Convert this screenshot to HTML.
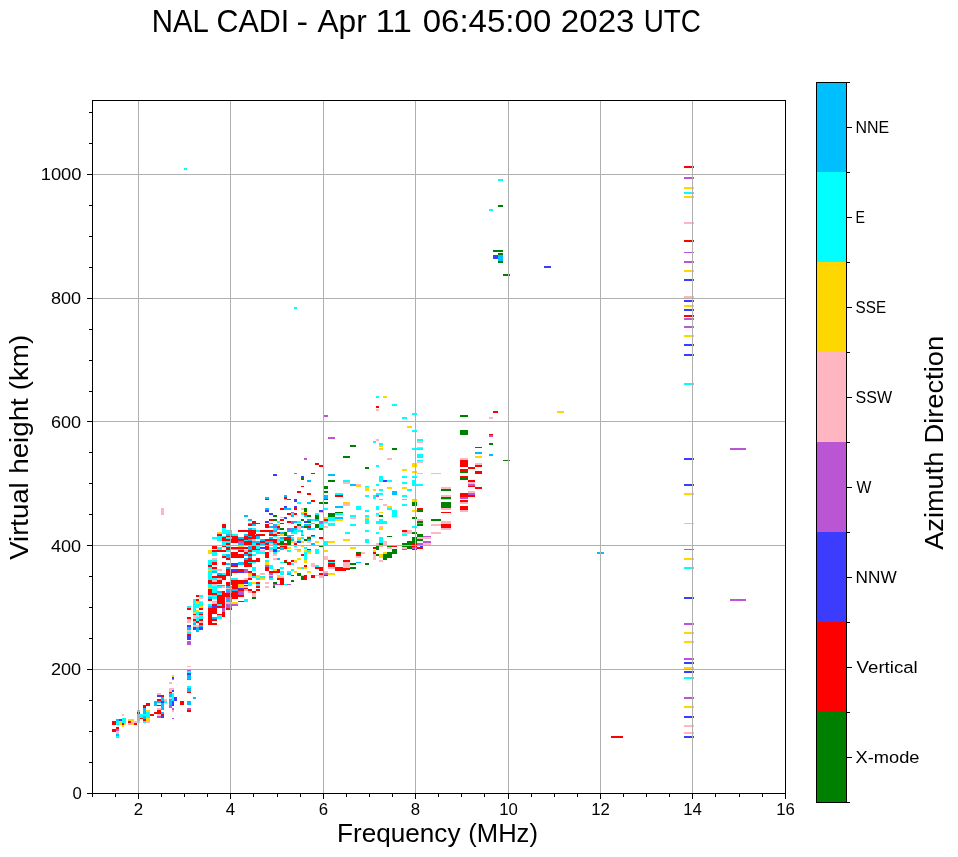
<!DOCTYPE html>
<html><head><meta charset="utf-8"><style>
html,body{margin:0;padding:0;background:#fff;width:958px;height:857px;overflow:hidden;position:relative}
text{font-family:'Liberation Sans',sans-serif}
</style></head><body>
<svg width="958" height="857" viewBox="0 0 958 857" style="position:absolute;left:0;top:0" shape-rendering="crispEdges"><rect x="0" y="0" width="958" height="857" fill="#fff"/><path fill="#FF0000" d="M112 721h4v4h-4z"/><path fill="#00FFFF" d="M116 721h3v4h-3z"/><path fill="#00BFFF" d="M116 719h3v2h-3z"/><path fill="#3C3CFF" d="M119 719h3v2h-3z"/><path fill="#FFD700" d="M119 721h5v4h-5z"/><path fill="#00FFFF" d="M122 718h4v5h-4z"/><path fill="#FF0000" d="M122 723h2v2h-2z"/><path fill="#FFD700" d="M122 725h2v2h-2zM124 723h2v2h-2z"/><path fill="#FFB6C1" d="M122 714h2v2h-2z"/><path fill="#FF0000" d="M116 727h3v2h-3zM112 729h4v3h-4z"/><path fill="#BA55D3" d="M116 729h3v2h-3z"/><path fill="#FFB6C1" d="M116 731h3v3h-3z"/><path fill="#00BFFF" d="M116 734h3v2h-3z"/><path fill="#00FFFF" d="M116 736h3v2h-3z"/><path fill="#FFD700" d="M128 719h6v2h-6z"/><path fill="#FF0000" d="M128 721h3v2h-3z"/><path fill="#FFB6C1" d="M131 721h7v2h-7zM128 723h3v2h-3z"/><path fill="#FFD700" d="M131 723h3v2h-3z"/><path fill="#FF0000" d="M134 723h3v2h-3z"/><path fill="#FFB6C1" d="M138 721h2v2h-2z"/><path fill="#00FFFF" d="M137 710h3v11h-3z"/><path fill="#FF0000" d="M137 712h3v2h-3z"/><path fill="#00FFFF" d="M140 714h10v4h-10z"/><path fill="#00BFFF" d="M143 708h3v6h-3z"/><path fill="#FF0000" d="M143 705h3v3h-3zM146 703h4v3h-4z"/><path fill="#FFD700" d="M146 710h4v2h-4z"/><path fill="#00FFFF" d="M146 712h4v6h-4z"/><path fill="#FFD700" d="M146 718h4v3h-4z"/><path fill="#FFB6C1" d="M146 721h4v2h-4z"/><path fill="#FF0000" d="M140 718h3v1h-3z"/><path fill="#00BFFF" d="M143 716h3v3h-3z"/><path fill="#FF0000" d="M143 719h3v2h-3z"/><path fill="#00FFFF" d="M143 721h3v2h-3z"/><path fill="#FF0000" d="M150 714h4v2h-4zM154 712h7v2h-7zM157 710h4v2h-4z"/><path fill="#FFB6C1" d="M157 708h4v2h-4z"/><path fill="#00BFFF" d="M154 701h3v5h-3zM157 701h4v2h-4z"/><path fill="#FF0000" d="M157 699h4v2h-4zM157 705h4v1h-4z"/><path fill="#FFB6C1" d="M157 693h4v2h-4z"/><path fill="#3C3CFF" d="M157 695h4v2h-4z"/><path fill="#FF0000" d="M161 695h3v2h-3z"/><path fill="#00BFFF" d="M161 697h3v13h-3z"/><path fill="#3C3CFF" d="M161 701h3v2h-3z"/><path fill="#00BFFF" d="M161 712h3v2h-3z"/><path fill="#FF0000" d="M161 714h3v2h-3z"/><path fill="#3C3CFF" d="M161 716h3v2h-3z"/><path fill="#FFB6C1" d="M157 714h4v2h-4z"/><path fill="#BA55D3" d="M157 716h4v2h-4zM187 641h4v4h-4z"/><path fill="#FFB6C1" d="M187 666h4v1h-4z"/><path fill="#BA55D3" d="M187 670h4v1h-4z"/><path fill="#00FFFF" d="M187 671h4v2h-4z"/><path fill="#3C3CFF" d="M187 673h4v2h-4z"/><path fill="#00BFFF" d="M187 675h4v4h-4z"/><path fill="#BA55D3" d="M187 679h4v1h-4z"/><path fill="#00FFFF" d="M187 686h4v2h-4z"/><path fill="#00BFFF" d="M187 688h4v4h-4z"/><path fill="#FF0000" d="M187 692h4v1h-4z"/><path fill="#00BFFF" d="M193 697h3v2h-3z"/><path fill="#FFD700" d="M172 675h2v2h-2z"/><path fill="#3C3CFF" d="M172 677h2v2h-2z"/><path fill="#00BFFF" d="M172 679h2v1h-2z"/><path fill="#FFB6C1" d="M169 682h3v2h-3zM169 688h5v2h-5zM169 690h3v2h-3z"/><path fill="#3C3CFF" d="M172 690h2v2h-2z"/><path fill="#FF0000" d="M169 692h3v1h-3z"/><path fill="#00BFFF" d="M169 693h3v12h-3z"/><path fill="#00FFFF" d="M172 693h2v8h-2z"/><path fill="#FFB6C1" d="M169 697h3v2h-3z"/><path fill="#3C3CFF" d="M174 697h3v4h-3zM172 701h2v4h-2z"/><path fill="#FF0000" d="M172 705h2v1h-2z"/><path fill="#BA55D3" d="M169 705h3v3h-3zM172 708h2v2h-2z"/><path fill="#FFB6C1" d="M172 710h2v2h-2z"/><path fill="#BA55D3" d="M172 718h2v1h-2z"/><path fill="#FFB6C1" d="M164 699h3v2h-3z"/><path fill="#00FFFF" d="M164 701h3v2h-3z"/><path fill="#FF0000" d="M180 701h4v4h-4z"/><path fill="#00BFFF" d="M187 701h4v4h-4z"/><path fill="#BA55D3" d="M187 708h4v2h-4z"/><path fill="#FF0000" d="M187 710h4v2h-4z"/><path fill="#00FFFF" d="M187 606h4v2h-4z"/><path fill="#FF0000" d="M187 608h4v2h-4zM187 617h4v2h-4z"/><path fill="#FFB6C1" d="M187 619h4v4h-4z"/><path fill="#3C3CFF" d="M187 625h4v2h-4z"/><path fill="#00BFFF" d="M187 627h4v3h-4z"/><path fill="#FFB6C1" d="M187 630h4v2h-4z"/><path fill="#00FFFF" d="M187 632h4v2h-4z"/><path fill="#FF0000" d="M187 634h4v2h-4z"/><path fill="#3C3CFF" d="M187 636h4v4h-4z"/><path fill="#00FFFF" d="M193 599h3v13h-3z"/><path fill="#FFD700" d="M193 612h3v2h-3z"/><path fill="#FF0000" d="M193 614h3v1h-3z"/><path fill="#FFB6C1" d="M193 615h3v4h-3z"/><path fill="#FF0000" d="M193 619h3v2h-3z"/><path fill="#00FFFF" d="M193 621h3v2h-3z"/><path fill="#00BFFF" d="M193 623h3v2h-3z"/><path fill="#FFB6C1" d="M193 625h6v2h-6z"/><path fill="#3C3CFF" d="M193 627h3v3h-3z"/><path fill="#FF0000" d="M196 595h3v2h-3zM196 599h3v2h-3z"/><path fill="#FFD700" d="M196 601h3v3h-3z"/><path fill="#00FFFF" d="M196 604h3v4h-3z"/><path fill="#FFD700" d="M196 610h3v2h-3z"/><path fill="#00FFFF" d="M196 612h3v3h-3z"/><path fill="#FFB6C1" d="M196 615h3v2h-3z"/><path fill="#00FFFF" d="M196 617h3v4h-3z"/><path fill="#FF0000" d="M196 621h3v2h-3z"/><path fill="#00BFFF" d="M196 627h3v5h-3z"/><path fill="#00FFFF" d="M199 595h4v2h-4z"/><path fill="#FFB6C1" d="M199 597h4v2h-4z"/><path fill="#FFD700" d="M199 601h4v1h-4z"/><path fill="#00FFFF" d="M199 602h4v4h-4z"/><path fill="#FFD700" d="M199 606h4v2h-4z"/><path fill="#FF0000" d="M199 608h4v2h-4z"/><path fill="#00BFFF" d="M199 612h4v2h-4z"/><path fill="#FF0000" d="M199 614h4v1h-4z"/><path fill="#00FFFF" d="M199 615h4v4h-4z"/><path fill="#FF0000" d="M199 619h4v2h-4z"/><path fill="#FFB6C1" d="M199 621h4v2h-4z"/><path fill="#FF0000" d="M199 623h4v2h-4z"/><path fill="#00BFFF" d="M199 625h4v2h-4z"/><path fill="#3C3CFF" d="M199 627h4v3h-4z"/><path fill="#00FFFF" d="M208 585h4v3h-4z"/><path fill="#FFD700" d="M208 588h4v1h-4z"/><path fill="#FF0000" d="M208 589h4v6h-4z"/><path fill="#00FFFF" d="M208 595h4v2h-4z"/><path fill="#00BFFF" d="M208 597h4v2h-4z"/><path fill="#FF0000" d="M208 599h4v2h-4z"/><path fill="#00FFFF" d="M208 604h4v2h-4z"/><path fill="#00BFFF" d="M208 606h4v2h-4z"/><path fill="#FF0000" d="M208 608h4v17h-4z"/><path fill="#FFB6C1" d="M212 585h5v1h-5z"/><path fill="#00FFFF" d="M212 586h5v7h-5z"/><path fill="#FF0000" d="M212 593h5v2h-5z"/><path fill="#00FFFF" d="M212 595h5v4h-5z"/><path fill="#FFB6C1" d="M212 601h5v3h-5z"/><path fill="#FF0000" d="M212 604h5v2h-5z"/><path fill="#3C3CFF" d="M212 606h5v2h-5z"/><path fill="#FF0000" d="M212 608h5v6h-5z"/><path fill="#00BFFF" d="M212 617h5v2h-5z"/><path fill="#FF0000" d="M212 619h5v2h-5zM212 623h5v2h-5z"/><path fill="#00BFFF" d="M217 585h5v1h-5z"/><path fill="#00FFFF" d="M217 586h5v2h-5z"/><path fill="#00BFFF" d="M217 591h5v2h-5z"/><path fill="#00FFFF" d="M217 593h5v2h-5z"/><path fill="#FF0000" d="M217 595h5v9h-5z"/><path fill="#00FFFF" d="M217 604h5v2h-5z"/><path fill="#FF0000" d="M217 606h5v2h-5zM217 614h5v1h-5z"/><path fill="#00FFFF" d="M217 615h5v4h-5z"/><path fill="#00BFFF" d="M222 585h3v1h-3z"/><path fill="#FFB6C1" d="M222 586h3v2h-3z"/><path fill="#FF0000" d="M222 591h3v17h-3z"/><path fill="#BA55D3" d="M222 608h3v4h-3z"/><path fill="#FF0000" d="M222 612h3v5h-3zM226 585h4v1h-4z"/><path fill="#00BFFF" d="M226 586h6v2h-6z"/><path fill="#FFB6C1" d="M226 588h6v1h-6z"/><path fill="#00BFFF" d="M226 589h6v2h-6z"/><path fill="#BA55D3" d="M226 591h6v2h-6z"/><path fill="#FF0000" d="M225 593h7v4h-7z"/><path fill="#BA55D3" d="M226 597h6v2h-6z"/><path fill="#00BFFF" d="M226 599h6v3h-6z"/><path fill="#FFB6C1" d="M226 602h6v2h-6z"/><path fill="#BA55D3" d="M226 604h6v4h-6z"/><path fill="#FF0000" d="M226 608h6v2h-6zM232 585h6v6h-6z"/><path fill="#00BFFF" d="M232 589h6v2h-6z"/><path fill="#FF0000" d="M232 591h6v8h-6z"/><path fill="#FFD700" d="M232 602h6v2h-6z"/><path fill="#BA55D3" d="M232 604h6v2h-6z"/><path fill="#FFD700" d="M238 585h6v3h-6z"/><path fill="#3C3CFF" d="M238 588h6v1h-6z"/><path fill="#FF0000" d="M238 589h6v2h-6z"/><path fill="#BA55D3" d="M238 591h6v4h-6z"/><path fill="#FF0000" d="M238 595h6v2h-6zM238 601h6v1h-6zM244 585h4v1h-4z"/><path fill="#FFB6C1" d="M244 586h4v2h-4z"/><path fill="#FF0000" d="M244 588h4v1h-4z"/><path fill="#FFB6C1" d="M244 589h4v2h-4z"/><path fill="#00FFFF" d="M244 599h4v3h-4zM248 585h4v1h-4z"/><path fill="#FF0000" d="M248 589h4v2h-4z"/><path fill="#FFB6C1" d="M248 591h4v2h-4z"/><path fill="#FF0000" d="M252 591h4v2h-4z"/><path fill="#FFB6C1" d="M252 593h4v4h-4z"/><path fill="#008000" d="M252 597h4v2h-4z"/><path fill="#00FFFF" d="M256 585h4v1h-4z"/><path fill="#FF0000" d="M256 586h4v2h-4zM256 589h4v2h-4z"/><path fill="#FFB6C1" d="M265 586h4v2h-4z"/><path fill="#BA55D3" d="M273 585h2v1h-2z"/><path fill="#008000" d="M273 586h2v2h-2z"/><path fill="#FFD700" d="M208 550h4v4h-4z"/><path fill="#00FFFF" d="M208 560h4v5h-4z"/><path fill="#FF0000" d="M208 565h4v2h-4z"/><path fill="#00FFFF" d="M208 567h4v2h-4z"/><path fill="#FFD700" d="M208 569h4v2h-4z"/><path fill="#00FFFF" d="M208 571h4v9h-4z"/><path fill="#FF0000" d="M208 580h4v4h-4z"/><path fill="#00FFFF" d="M208 584h4v1h-4zM212 537h5v2h-5z"/><path fill="#FF0000" d="M212 546h5v3h-5zM212 550h5v2h-5z"/><path fill="#00FFFF" d="M212 552h5v4h-5z"/><path fill="#FFB6C1" d="M212 558h5v2h-5z"/><path fill="#00FFFF" d="M212 560h5v2h-5z"/><path fill="#FF0000" d="M212 562h5v3h-5zM212 567h5v2h-5z"/><path fill="#00FFFF" d="M212 569h5v2h-5z"/><path fill="#00BFFF" d="M212 571h5v2h-5z"/><path fill="#FF0000" d="M212 576h5v2h-5z"/><path fill="#00FFFF" d="M212 578h5v2h-5z"/><path fill="#FFB6C1" d="M212 580h5v2h-5z"/><path fill="#FF0000" d="M212 582h5v2h-5z"/><path fill="#FFB6C1" d="M212 584h5v1h-5z"/><path fill="#FF0000" d="M217 535h5v1h-5z"/><path fill="#00FFFF" d="M217 536h5v5h-5zM217 547h5v3h-5z"/><path fill="#FF0000" d="M217 550h5v2h-5z"/><path fill="#FFB6C1" d="M217 569h5v2h-5z"/><path fill="#00BFFF" d="M217 573h5v2h-5z"/><path fill="#FF0000" d="M217 575h5v5h-5z"/><path fill="#FFB6C1" d="M217 578h5v2h-5z"/><path fill="#FF0000" d="M217 580h5v4h-5z"/><path fill="#00FFFF" d="M222 536h4v1h-4z"/><path fill="#FF0000" d="M222 537h4v4h-4z"/><path fill="#00FFFF" d="M222 541h4v4h-4z"/><path fill="#FF0000" d="M222 546h4v1h-4zM222 550h4v2h-4z"/><path fill="#00FFFF" d="M222 554h4v2h-4z"/><path fill="#FF0000" d="M222 556h4v2h-4zM222 562h4v3h-4z"/><path fill="#00FFFF" d="M222 573h4v2h-4z"/><path fill="#FF0000" d="M222 575h4v5h-4z"/><path fill="#00BFFF" d="M226 535h5v1h-5z"/><path fill="#00FFFF" d="M226 537h5v2h-5z"/><path fill="#FF0000" d="M226 539h5v2h-5z"/><path fill="#00FFFF" d="M226 541h5v2h-5z"/><path fill="#FF0000" d="M226 543h5v2h-5z"/><path fill="#00FFFF" d="M226 546h5v1h-5z"/><path fill="#FF0000" d="M226 547h5v3h-5z"/><path fill="#00FFFF" d="M226 550h5v2h-5z"/><path fill="#00BFFF" d="M226 554h5v4h-5z"/><path fill="#FF0000" d="M226 558h5v2h-5z"/><path fill="#00BFFF" d="M226 563h5v2h-5zM226 567h5v2h-5z"/><path fill="#FF0000" d="M226 569h5v7h-5zM226 582h5v3h-5z"/><path fill="#00FFFF" d="M231 535h7v1h-7z"/><path fill="#FF0000" d="M231 536h7v7h-7zM231 547h7v2h-7z"/><path fill="#00FFFF" d="M231 549h7v1h-7z"/><path fill="#FF0000" d="M231 552h7v6h-7z"/><path fill="#3C3CFF" d="M231 563h7v2h-7z"/><path fill="#FF0000" d="M231 565h7v2h-7z"/><path fill="#3C3CFF" d="M231 569h7v2h-7z"/><path fill="#FF0000" d="M231 571h7v2h-7zM231 573h1v3h-1z"/><path fill="#00FFFF" d="M231 578h7v2h-7z"/><path fill="#FF0000" d="M231 580h7v5h-7z"/><path fill="#00BFFF" d="M238 537h6v2h-6z"/><path fill="#FF0000" d="M238 539h6v2h-6z"/><path fill="#BA55D3" d="M238 541h6v2h-6z"/><path fill="#00BFFF" d="M238 543h6v2h-6z"/><path fill="#FFD700" d="M238 546h6v1h-6z"/><path fill="#FF0000" d="M238 547h6v2h-6z"/><path fill="#00FFFF" d="M238 549h6v1h-6z"/><path fill="#FF0000" d="M238 550h6v2h-6zM238 554h6v4h-6z"/><path fill="#00BFFF" d="M238 562h6v3h-6z"/><path fill="#FF0000" d="M238 569h6v2h-6z"/><path fill="#3C3CFF" d="M238 571h6v2h-6z"/><path fill="#FF0000" d="M238 580h6v5h-6z"/><path fill="#FFD700" d="M238 584h6v1h-6z"/><path fill="#00BFFF" d="M244 535h4v1h-4z"/><path fill="#FF0000" d="M244 536h4v3h-4z"/><path fill="#00FFFF" d="M244 539h4v2h-4z"/><path fill="#FF0000" d="M244 541h4v4h-4zM244 547h4v2h-4z"/><path fill="#FFB6C1" d="M244 550h4v2h-4z"/><path fill="#FF0000" d="M244 552h4v2h-4z"/><path fill="#00BFFF" d="M244 554h4v2h-4zM244 558h4v2h-4z"/><path fill="#FF0000" d="M244 560h4v7h-4z"/><path fill="#BA55D3" d="M244 569h4v4h-4z"/><path fill="#FFB6C1" d="M244 578h4v2h-4z"/><path fill="#FF0000" d="M244 580h4v2h-4z"/><path fill="#3C3CFF" d="M244 582h4v2h-4z"/><path fill="#FF0000" d="M248 535h4v1h-4z"/><path fill="#00BFFF" d="M248 536h4v1h-4z"/><path fill="#FF0000" d="M248 537h4v2h-4z"/><path fill="#00BFFF" d="M248 539h4v2h-4z"/><path fill="#FF0000" d="M248 541h4v4h-4z"/><path fill="#00BFFF" d="M248 546h4v4h-4z"/><path fill="#FF0000" d="M248 550h4v2h-4z"/><path fill="#00FFFF" d="M248 552h4v2h-4z"/><path fill="#FF0000" d="M248 554h4v2h-4z"/><path fill="#00BFFF" d="M248 556h4v2h-4z"/><path fill="#FF0000" d="M248 558h4v4h-4z"/><path fill="#00FFFF" d="M248 562h4v1h-4z"/><path fill="#FF0000" d="M248 563h4v4h-4zM248 571h4v2h-4z"/><path fill="#FFD700" d="M248 573h4v3h-4z"/><path fill="#FFB6C1" d="M248 576h4v2h-4z"/><path fill="#FF0000" d="M248 578h4v2h-4z"/><path fill="#00FFFF" d="M248 582h4v3h-4z"/><path fill="#FF0000" d="M252 535h4v1h-4zM252 536h4v3h-4z"/><path fill="#FFB6C1" d="M252 539h4v2h-4z"/><path fill="#00BFFF" d="M252 541h4v2h-4z"/><path fill="#00FFFF" d="M252 543h4v2h-4z"/><path fill="#FF0000" d="M252 546h4v4h-4z"/><path fill="#00FFFF" d="M252 550h4v2h-4zM252 554h4v2h-4z"/><path fill="#FF0000" d="M252 560h4v2h-4z"/><path fill="#00FFFF" d="M252 562h4v1h-4zM252 567h4v4h-4z"/><path fill="#FF0000" d="M252 573h4v3h-4z"/><path fill="#00FFFF" d="M252 576h4v2h-4z"/><path fill="#FFD700" d="M252 582h4v2h-4z"/><path fill="#FF0000" d="M256 535h4v1h-4z"/><path fill="#00BFFF" d="M256 536h4v3h-4zM256 541h4v2h-4z"/><path fill="#FF0000" d="M256 543h4v2h-4z"/><path fill="#00FFFF" d="M256 546h4v3h-4z"/><path fill="#FF0000" d="M256 549h4v1h-4z"/><path fill="#00FFFF" d="M256 550h4v4h-4z"/><path fill="#FF0000" d="M256 558h4v4h-4z"/><path fill="#FFB6C1" d="M256 575h4v1h-4z"/><path fill="#FFD700" d="M256 576h4v2h-4z"/><path fill="#00FFFF" d="M256 578h4v2h-4z"/><path fill="#FF0000" d="M256 582h4v2h-4z"/><path fill="#00FFFF" d="M256 584h4v1h-4z"/><path fill="#FF0000" d="M260 535h5v1h-5z"/><path fill="#00BFFF" d="M260 539h5v2h-5z"/><path fill="#FF0000" d="M260 541h5v2h-5z"/><path fill="#00BFFF" d="M260 543h5v2h-5z"/><path fill="#3C3CFF" d="M260 547h5v2h-5z"/><path fill="#FFB6C1" d="M260 550h5v2h-5z"/><path fill="#00FFFF" d="M260 552h5v2h-5z"/><path fill="#FFB6C1" d="M260 573h5v2h-5z"/><path fill="#00FFFF" d="M260 576h5v2h-5z"/><path fill="#FFD700" d="M260 578h5v2h-5z"/><path fill="#FF0000" d="M265 539h4v2h-4z"/><path fill="#00BFFF" d="M265 541h4v2h-4z"/><path fill="#FF0000" d="M265 543h4v2h-4zM265 546h4v4h-4zM265 552h4v6h-4z"/><path fill="#00FFFF" d="M265 560h4v2h-4z"/><path fill="#FFD700" d="M265 562h4v3h-4z"/><path fill="#BA55D3" d="M265 565h4v2h-4z"/><path fill="#FF0000" d="M265 567h4v4h-4z"/><path fill="#FFB6C1" d="M265 582h4v2h-4z"/><path fill="#FF0000" d="M269 535h4v1h-4z"/><path fill="#00BFFF" d="M269 537h4v2h-4z"/><path fill="#FF0000" d="M269 539h4v2h-4z"/><path fill="#00BFFF" d="M269 541h4v2h-4z"/><path fill="#FFB6C1" d="M269 543h4v2h-4z"/><path fill="#00FFFF" d="M269 547h4v3h-4z"/><path fill="#FFB6C1" d="M269 550h4v2h-4z"/><path fill="#00FFFF" d="M269 565h4v4h-4z"/><path fill="#FF0000" d="M269 571h4v2h-4z"/><path fill="#BA55D3" d="M269 573h4v2h-4z"/><path fill="#FFB6C1" d="M269 575h4v1h-4z"/><path fill="#BA55D3" d="M269 576h4v2h-4z"/><path fill="#00FFFF" d="M269 578h4v2h-4z"/><path fill="#FF0000" d="M273 535h4v1h-4z"/><path fill="#00FFFF" d="M273 536h4v1h-4z"/><path fill="#FF0000" d="M273 539h4v4h-4z"/><path fill="#00BFFF" d="M273 543h4v2h-4z"/><path fill="#00FFFF" d="M273 546h4v3h-4z"/><path fill="#FF0000" d="M273 549h4v1h-4z"/><path fill="#3C3CFF" d="M273 550h4v2h-4z"/><path fill="#00FFFF" d="M273 552h4v2h-4z"/><path fill="#FFB6C1" d="M273 554h4v2h-4zM273 558h4v2h-4z"/><path fill="#FFD700" d="M273 569h4v2h-4z"/><path fill="#FF0000" d="M273 571h4v2h-4z"/><path fill="#008000" d="M273 582h4v2h-4z"/><path fill="#BA55D3" d="M273 584h4v1h-4z"/><path fill="#00BFFF" d="M277 535h3v1h-3z"/><path fill="#FFB6C1" d="M277 537h3v2h-3z"/><path fill="#00FFFF" d="M277 539h3v2h-3z"/><path fill="#FFB6C1" d="M277 541h3v2h-3z"/><path fill="#FF0000" d="M277 543h3v2h-3zM277 547h3v2h-3z"/><path fill="#00FFFF" d="M277 550h3v2h-3z"/><path fill="#00BFFF" d="M277 558h3v2h-3z"/><path fill="#FF0000" d="M277 569h3v4h-3z"/><path fill="#FFD700" d="M277 575h3v3h-3z"/><path fill="#FF0000" d="M277 578h3v2h-3z"/><path fill="#BA55D3" d="M277 584h3v1h-3z"/><path fill="#FFD700" d="M280 535h4v1h-4z"/><path fill="#00BFFF" d="M280 537h4v2h-4z"/><path fill="#00FFFF" d="M280 539h4v2h-4z"/><path fill="#008000" d="M280 541h4v4h-4z"/><path fill="#FF0000" d="M280 546h4v1h-4z"/><path fill="#00BFFF" d="M280 547h4v3h-4z"/><path fill="#00FFFF" d="M280 562h4v1h-4zM280 567h4v2h-4zM280 571h4v4h-4z"/><path fill="#FFB6C1" d="M280 576h4v2h-4z"/><path fill="#FF0000" d="M280 578h4v7h-4z"/><path fill="#008000" d="M284 535h3v1h-3z"/><path fill="#FF0000" d="M284 537h3v2h-3z"/><path fill="#008000" d="M284 539h3v2h-3z"/><path fill="#FF0000" d="M284 543h3v2h-3zM284 546h3v3h-3zM284 560h3v2h-3z"/><path fill="#008000" d="M284 562h3v1h-3z"/><path fill="#00FFFF" d="M284 584h3v1h-3z"/><path fill="#00BFFF" d="M287 535h4v2h-4z"/><path fill="#FF0000" d="M287 537h4v2h-4z"/><path fill="#008000" d="M287 539h4v6h-4z"/><path fill="#FFD700" d="M287 547h4v2h-4z"/><path fill="#00FFFF" d="M287 550h4v2h-4z"/><path fill="#FF0000" d="M287 562h4v3h-4z"/><path fill="#00FFFF" d="M287 571h4v2h-4z"/><path fill="#00BFFF" d="M287 573h4v2h-4z"/><path fill="#BA55D3" d="M287 584h4v1h-4z"/><path fill="#00BFFF" d="M291 535h3v1h-3z"/><path fill="#00FFFF" d="M291 537h3v4h-3z"/><path fill="#00BFFF" d="M291 539h3v2h-3z"/><path fill="#FFD700" d="M291 541h3v2h-3z"/><path fill="#FF0000" d="M291 560h3v2h-3z"/><path fill="#00FFFF" d="M291 563h3v2h-3zM291 569h3v2h-3z"/><path fill="#FF0000" d="M291 575h3v1h-3z"/><path fill="#008000" d="M291 580h3v2h-3z"/><path fill="#FFB6C1" d="M294 541h3v2h-3z"/><path fill="#FF0000" d="M294 543h3v2h-3z"/><path fill="#00FFFF" d="M294 546h3v1h-3z"/><path fill="#FFB6C1" d="M294 549h3v1h-3z"/><path fill="#FFD700" d="M294 560h3v2h-3z"/><path fill="#FFB6C1" d="M294 562h3v1h-3z"/><path fill="#FFD700" d="M294 571h3v2h-3z"/><path fill="#00BFFF" d="M301 535h3v1h-3z"/><path fill="#FFB6C1" d="M307 536h4v1h-4z"/><path fill="#FF0000" d="M311 535h4v1h-4z"/><path fill="#00BFFF" d="M311 536h4v1h-4z"/><path fill="#FFD700" d="M297 537h4v2h-4z"/><path fill="#00FFFF" d="M301 537h3v2h-3z"/><path fill="#008000" d="M307 537h4v2h-4z"/><path fill="#FF0000" d="M319 537h4v2h-4z"/><path fill="#00FFFF" d="M297 539h4v2h-4z"/><path fill="#008000" d="M304 539h3v2h-3z"/><path fill="#00BFFF" d="M307 539h4v2h-4z"/><path fill="#FFD700" d="M343 539h3v2h-3z"/><path fill="#3C3CFF" d="M297 541h4v2h-4z"/><path fill="#FFD700" d="M301 541h3v2h-3z"/><path fill="#FFB6C1" d="M307 541h4v2h-4z"/><path fill="#FFD700" d="M315 541h4v2h-4z"/><path fill="#00FFFF" d="M324 541h4v4h-4z"/><path fill="#FFD700" d="M328 541h7v2h-7z"/><path fill="#FF0000" d="M296 543h1v2h-1z"/><path fill="#00BFFF" d="M311 543h4v2h-4z"/><path fill="#00FFFF" d="M296 546h1v1h-1z"/><path fill="#FFD700" d="M301 546h3v1h-3z"/><path fill="#008000" d="M319 546h4v1h-4z"/><path fill="#00FFFF" d="M304 547h3v2h-3zM297 549h4v1h-4z"/><path fill="#FF0000" d="M307 549h4v1h-4z"/><path fill="#00FFFF" d="M315 549h4v5h-4z"/><path fill="#FFD700" d="M297 550h4v2h-4zM304 550h3v2h-3z"/><path fill="#00FFFF" d="M307 550h4v2h-4z"/><path fill="#FFD700" d="M324 550h4v2h-4z"/><path fill="#00FFFF" d="M304 552h3v8h-3z"/><path fill="#FFD700" d="M307 552h4v2h-4z"/><path fill="#FF0000" d="M301 554h3v2h-3z"/><path fill="#FFB6C1" d="M324 556h4v4h-4z"/><path fill="#FFD700" d="M297 558h4v2h-4zM296 560h1v2h-1zM304 560h3v3h-3z"/><path fill="#FF0000" d="M328 560h7v2h-7zM343 560h3v2h-3z"/><path fill="#00FFFF" d="M328 562h7v1h-7z"/><path fill="#FF0000" d="M328 563h7v4h-7z"/><path fill="#FFB6C1" d="M343 562h3v7h-3zM311 563h4v4h-4z"/><path fill="#FF0000" d="M304 565h3v2h-3z"/><path fill="#00FFFF" d="M315 565h4v2h-4z"/><path fill="#FFD700" d="M297 567h4v2h-4z"/><path fill="#00FFFF" d="M301 567h3v2h-3z"/><path fill="#FFD700" d="M304 567h3v2h-3z"/><path fill="#FF0000" d="M315 567h8v2h-8zM319 569h4v2h-4z"/><path fill="#FFB6C1" d="M328 567h7v2h-7z"/><path fill="#FF0000" d="M335 567h11v4h-11z"/><path fill="#FFD700" d="M296 571h1v2h-1zM307 571h4v2h-4z"/><path fill="#FFB6C1" d="M324 571h4v2h-4z"/><path fill="#008000" d="M297 573h4v2h-4z"/><path fill="#FF0000" d="M319 573h4v2h-4z"/><path fill="#BA55D3" d="M324 573h4v2h-4z"/><path fill="#FFD700" d="M328 573h7v2h-7z"/><path fill="#FF0000" d="M297 575h4v1h-4z"/><path fill="#FFB6C1" d="M301 575h3v1h-3z"/><path fill="#008000" d="M324 575h4v1h-4z"/><path fill="#FFB6C1" d="M315 575h4v1h-4z"/><path fill="#008000" d="M301 576h3v4h-3z"/><path fill="#FF0000" d="M304 575h3v5h-3zM311 575h4v3h-4z"/><path fill="#FFB6C1" d="M319 575h4v3h-4z"/><path fill="#FF0000" d="M343 560h7v2h-7z"/><path fill="#FFB6C1" d="M343 562h7v6h-7z"/><path fill="#FF0000" d="M343 568h7v2h-7z"/><path fill="#00FFFF" d="M365 520h4v4h-4zM376 521h11v3h-11zM379 520h4v4h-4zM350 524h6v2h-6z"/><path fill="#FFB6C1" d="M379 526h4v2h-4z"/><path fill="#FFD700" d="M379 528h4v2h-4z"/><path fill="#00FFFF" d="M412 526h5v2h-5z"/><path fill="#FFB6C1" d="M417 520h6v1h-6z"/><path fill="#008000" d="M417 521h6v2h-6z"/><path fill="#00BFFF" d="M417 523h6v1h-6z"/><path fill="#008000" d="M417 524h6v2h-6z"/><path fill="#00FFFF" d="M345 532h5v2h-5zM365 530h4v2h-4zM376 532h3v2h-3z"/><path fill="#FF0000" d="M402 530h5v2h-5z"/><path fill="#FFB6C1" d="M402 532h10v2h-10zM407 530h5v2h-5z"/><path fill="#008000" d="M412 532h5v2h-5z"/><path fill="#00FFFF" d="M402 534h5v2h-5z"/><path fill="#008000" d="M387 536h5v1h-5zM417 534h6v3h-6z"/><path fill="#BA55D3" d="M423 536h2v1h-2z"/><path fill="#FFD700" d="M345 539h5v2h-5z"/><path fill="#00FFFF" d="M365 539h4v4h-4zM379 537h4v6h-4z"/><path fill="#FFB6C1" d="M383 541h4v4h-4zM376 543h3v2h-3z"/><path fill="#008000" d="M379 543h4v2h-4zM412 537h5v6h-5z"/><path fill="#FFB6C1" d="M417 537h6v2h-6z"/><path fill="#008000" d="M417 539h6v2h-6z"/><path fill="#BA55D3" d="M423 541h2v2h-2z"/><path fill="#008000" d="M407 541h5v4h-5zM402 543h5v4h-5z"/><path fill="#FF0000" d="M412 543h5v2h-5z"/><path fill="#BA55D3" d="M417 543h6v2h-6z"/><path fill="#FFB6C1" d="M423 543h2v2h-2z"/><path fill="#FF0000" d="M392 546h5v1h-5z"/><path fill="#008000" d="M387 546h5v1h-5z"/><path fill="#FFB6C1" d="M379 546h4v1h-4z"/><path fill="#FFD700" d="M350 547h6v2h-6z"/><path fill="#FF0000" d="M373 547h3v2h-3z"/><path fill="#008000" d="M376 546h3v3h-3z"/><path fill="#FF0000" d="M376 549h3v1h-3z"/><path fill="#FFB6C1" d="M387 547h5v2h-5zM402 547h5v2h-5z"/><path fill="#008000" d="M407 546h5v3h-5z"/><path fill="#FF0000" d="M412 546h5v1h-5z"/><path fill="#BA55D3" d="M412 547h5v2h-5z"/><path fill="#FF0000" d="M412 549h5v1h-5zM417 547h6v2h-6z"/><path fill="#BA55D3" d="M402 549h5v1h-5z"/><path fill="#FFD700" d="M373 550h3v2h-3z"/><path fill="#FF0000" d="M373 552h3v2h-3z"/><path fill="#FFB6C1" d="M373 554h3v6h-3z"/><path fill="#008000" d="M392 549h5v5h-5zM387 552h5v6h-5z"/><path fill="#FFD700" d="M383 552h4v2h-4zM379 554h4v4h-4z"/><path fill="#008000" d="M383 554h4v6h-4zM376 554h3v2h-3z"/><path fill="#FFB6C1" d="M379 560h4v2h-4z"/><path fill="#008000" d="M356 552h5v2h-5z"/><path fill="#FFB6C1" d="M361 552h4v2h-4z"/><path fill="#FF0000" d="M356 554h5v2h-5z"/><path fill="#FFB6C1" d="M356 556h5v2h-5z"/><path fill="#00BFFF" d="M356 562h5v1h-5z"/><path fill="#008000" d="M350 563h6v2h-6zM365 563h4v2h-4zM350 567h6v2h-6z"/><path fill="#00BFFF" d="M244 515h4v2h-4zM248 519h4v2h-4z"/><path fill="#FF0000" d="M252 521h3v3h-3z"/><path fill="#00BFFF" d="M248 523h4v1h-4z"/><path fill="#FF0000" d="M248 524h4v2h-4z"/><path fill="#00BFFF" d="M252 524h3v2h-3zM248 528h4v2h-4z"/><path fill="#00FFFF" d="M252 528h3v2h-3z"/><path fill="#FF0000" d="M222 524h4v4h-4z"/><path fill="#00FFFF" d="M222 528h4v6h-4zM226 530h6v4h-6z"/><path fill="#FF0000" d="M238 530h17v2h-17zM248 532h7v4h-7z"/><path fill="#FFD700" d="M217 532h5v2h-5z"/><path fill="#FF0000" d="M217 534h5v2h-5z"/><path fill="#00BFFF" d="M226 534h6v2h-6z"/><path fill="#00FFFF" d="M232 534h6v2h-6z"/><path fill="#00BFFF" d="M244 534h4v2h-4z"/><path fill="#00FFFF" d="M212 537h10v2h-10zM217 536h5v4h-5zM222 536h4v1h-4z"/><path fill="#FF0000" d="M222 537h4v3h-4zM226 536h6v1h-6z"/><path fill="#00FFFF" d="M226 537h6v2h-6z"/><path fill="#FF0000" d="M232 536h6v4h-6z"/><path fill="#00BFFF" d="M238 537h6v2h-6z"/><path fill="#FF0000" d="M244 536h4v4h-4z"/><path fill="#00BFFF" d="M248 536h4v1h-4z"/><path fill="#FF0000" d="M248 537h7v2h-7zM301 486h2v1h-2zM297 491h4v2h-4z"/><path fill="#00BFFF" d="M284 495h3v2h-3z"/><path fill="#FF0000" d="M284 497h3v2h-3z"/><path fill="#00FFFF" d="M284 499h3v1h-3z"/><path fill="#3C3CFF" d="M287 499h4v1h-4z"/><path fill="#00BFFF" d="M265 497h4v2h-4z"/><path fill="#FF0000" d="M265 499h4v1h-4zM294 499h3v1h-3z"/><path fill="#3C3CFF" d="M294 500h3v2h-3z"/><path fill="#00FFFF" d="M297 502h4v2h-4z"/><path fill="#3C3CFF" d="M284 506h3v2h-3z"/><path fill="#FF0000" d="M280 508h4v2h-4z"/><path fill="#00BFFF" d="M284 508h7v2h-7z"/><path fill="#3C3CFF" d="M294 506h3v2h-3z"/><path fill="#FF0000" d="M294 508h3v2h-3z"/><path fill="#FFB6C1" d="M301 508h2v2h-2z"/><path fill="#00BFFF" d="M265 508h4v2h-4z"/><path fill="#3C3CFF" d="M265 510h4v2h-4zM269 513h4v2h-4z"/><path fill="#008000" d="M273 515h4v2h-4z"/><path fill="#BA55D3" d="M291 512h3v1h-3z"/><path fill="#00FFFF" d="M291 513h3v2h-3z"/><path fill="#00BFFF" d="M291 515h3v2h-3z"/><path fill="#FF0000" d="M287 513h4v2h-4zM294 513h3v2h-3z"/><path fill="#FFD700" d="M301 512h2v1h-2z"/><path fill="#00FFFF" d="M301 513h2v2h-2z"/><path fill="#FFB6C1" d="M280 517h4v1h-4z"/><path fill="#3C3CFF" d="M284 517h3v2h-3z"/><path fill="#FF0000" d="M269 519h4v2h-4z"/><path fill="#008000" d="M273 519h4v2h-4z"/><path fill="#FF0000" d="M280 519h4v2h-4z"/><path fill="#008000" d="M301 519h2v2h-2z"/><path fill="#FF0000" d="M253 521h3v2h-3zM256 523h4v1h-4zM253 523h3v1h-3z"/><path fill="#3C3CFF" d="M265 521h4v2h-4z"/><path fill="#00FFFF" d="M277 521h3v2h-3z"/><path fill="#FF0000" d="M287 521h4v2h-4z"/><path fill="#BA55D3" d="M291 521h3v3h-3z"/><path fill="#00BFFF" d="M294 521h3v2h-3z"/><path fill="#00FFFF" d="M297 521h4v2h-4z"/><path fill="#00BFFF" d="M269 523h4v1h-4z"/><path fill="#FF0000" d="M280 523h4v1h-4z"/><path fill="#00BFFF" d="M253 524h3v2h-3z"/><path fill="#FF0000" d="M265 524h4v4h-4z"/><path fill="#00BFFF" d="M273 524h4v2h-4z"/><path fill="#FFD700" d="M277 524h3v2h-3z"/><path fill="#008000" d="M297 524h4v2h-4z"/><path fill="#00BFFF" d="M269 526h4v2h-4z"/><path fill="#BA55D3" d="M273 526h4v2h-4z"/><path fill="#FF0000" d="M277 526h3v2h-3zM294 526h3v2h-3z"/><path fill="#FFB6C1" d="M297 526h4v4h-4z"/><path fill="#00BFFF" d="M301 526h2v2h-2z"/><path fill="#00FFFF" d="M253 528h3v2h-3zM273 528h4v2h-4z"/><path fill="#BA55D3" d="M277 528h3v2h-3z"/><path fill="#008000" d="M280 528h4v2h-4z"/><path fill="#BA55D3" d="M287 528h4v2h-4z"/><path fill="#00BFFF" d="M291 528h6v2h-6z"/><path fill="#FF0000" d="M253 530h3v4h-3z"/><path fill="#00FFFF" d="M256 530h4v2h-4z"/><path fill="#FF0000" d="M260 530h13v2h-13z"/><path fill="#00BFFF" d="M273 530h4v2h-4zM287 530h7v2h-7z"/><path fill="#00FFFF" d="M294 530h7v2h-7z"/><path fill="#00BFFF" d="M301 530h2v2h-2zM269 532h4v2h-4z"/><path fill="#FFB6C1" d="M273 532h4v2h-4z"/><path fill="#FF0000" d="M277 532h3v2h-3z"/><path fill="#00BFFF" d="M280 532h4v2h-4z"/><path fill="#008000" d="M284 532h3v3h-3z"/><path fill="#00FFFF" d="M291 532h6v2h-6zM301 532h2v3h-2z"/><path fill="#FF0000" d="M256 534h9v1h-9zM269 534h8v1h-8z"/><path fill="#FFD700" d="M280 534h4v1h-4z"/><path fill="#FF0000" d="M311 473h4v1h-4z"/><path fill="#3C3CFF" d="M301 476h3v2h-3z"/><path fill="#008000" d="M301 478h3v2h-3z"/><path fill="#00BFFF" d="M307 480h4v2h-4zM328 474h7v2h-7z"/><path fill="#008000" d="M328 480h7v2h-7z"/><path fill="#00FFFF" d="M343 480h7v2h-7z"/><path fill="#FFB6C1" d="M343 482h7v2h-7z"/><path fill="#00BFFF" d="M350 484h6v2h-6z"/><path fill="#FFB6C1" d="M356 484h4v2h-4z"/><path fill="#FFD700" d="M356 486h4v1h-4z"/><path fill="#FF0000" d="M301 486h3v1h-3z"/><path fill="#008000" d="M324 486h4v3h-4zM324 491h4v2h-4z"/><path fill="#FF0000" d="M300 491h1v2h-1zM307 493h4v2h-4z"/><path fill="#00FFFF" d="M335 493h8v2h-8z"/><path fill="#FF0000" d="M335 495h8v2h-8z"/><path fill="#00BFFF" d="M324 495h4v4h-4z"/><path fill="#008000" d="M324 499h4v1h-4z"/><path fill="#FF0000" d="M311 500h4v2h-4z"/><path fill="#00FFFF" d="M300 502h1v2h-1z"/><path fill="#00BFFF" d="M307 502h4v2h-4z"/><path fill="#008000" d="M319 502h4v2h-4zM324 502h4v2h-4z"/><path fill="#FFD700" d="M343 502h7v2h-7z"/><path fill="#FFB6C1" d="M343 504h7v2h-7z"/><path fill="#00BFFF" d="M335 506h8v2h-8z"/><path fill="#00FFFF" d="M356 506h4v4h-4z"/><path fill="#FFB6C1" d="M301 508h3v2h-3z"/><path fill="#008000" d="M304 508h3v4h-3z"/><path fill="#00FFFF" d="M324 508h4v2h-4z"/><path fill="#3C3CFF" d="M319 510h4v2h-4z"/><path fill="#FFB6C1" d="M319 512h4v1h-4z"/><path fill="#FFD700" d="M301 512h6v1h-6z"/><path fill="#00FFFF" d="M301 513h3v2h-3z"/><path fill="#FF0000" d="M304 513h3v2h-3z"/><path fill="#00FFFF" d="M315 513h4v2h-4z"/><path fill="#008000" d="M335 512h8v1h-8z"/><path fill="#00FFFF" d="M335 513h8v2h-8z"/><path fill="#008000" d="M328 513h7v4h-7z"/><path fill="#00BFFF" d="M304 515h3v2h-3z"/><path fill="#008000" d="M307 515h4v2h-4zM315 515h4v4h-4z"/><path fill="#00FFFF" d="M350 515h6v2h-6z"/><path fill="#FFB6C1" d="M350 517h6v2h-6z"/><path fill="#FFD700" d="M324 517h4v2h-4z"/><path fill="#FF0000" d="M324 519h4v2h-4z"/><path fill="#00FFFF" d="M328 517h7v4h-7z"/><path fill="#00BFFF" d="M335 517h8v2h-8z"/><path fill="#FFD700" d="M335 519h8v2h-8z"/><path fill="#008000" d="M301 519h3v2h-3z"/><path fill="#00BFFF" d="M307 519h4v2h-4z"/><path fill="#00FFFF" d="M311 519h4v2h-4z"/><path fill="#00BFFF" d="M315 519h4v2h-4z"/><path fill="#00FFFF" d="M300 521h1v2h-1z"/><path fill="#3C3CFF" d="M304 521h3v2h-3z"/><path fill="#008000" d="M307 521h4v2h-4z"/><path fill="#00FFFF" d="M311 523h4v1h-4z"/><path fill="#BA55D3" d="M319 521h4v2h-4z"/><path fill="#00BFFF" d="M319 523h4v1h-4z"/><path fill="#00FFFF" d="M319 524h4v4h-4zM324 521h4v2h-4zM328 523h7v3h-7zM350 524h6v2h-6z"/><path fill="#008000" d="M300 524h1v2h-1z"/><path fill="#00BFFF" d="M304 524h7v2h-7z"/><path fill="#008000" d="M315 524h4v4h-4z"/><path fill="#00BFFF" d="M301 526h3v2h-3z"/><path fill="#008000" d="M304 526h3v2h-3z"/><path fill="#FF0000" d="M307 526h4v2h-4z"/><path fill="#FFB6C1" d="M324 526h4v2h-4zM300 526h1v3h-1z"/><path fill="#00BFFF" d="M307 528h4v2h-4z"/><path fill="#00FFFF" d="M311 528h4v2h-4z"/><path fill="#008000" d="M319 528h4v2h-4z"/><path fill="#3C3CFF" d="M273 474h4v2h-4z"/><path fill="#BA55D3" d="M294 473h3v1h-3z"/><path fill="#FFB6C1" d="M376 440h3v1h-3z"/><path fill="#00FFFF" d="M373 441h3v2h-3zM379 443h4v2h-4z"/><path fill="#FFD700" d="M379 445h4v2h-4zM379 448h4v2h-4z"/><path fill="#008000" d="M355 445h1v2h-1zM392 448h5v2h-5z"/><path fill="#00FFFF" d="M412 448h11v2h-11zM417 440h6v1h-6z"/><path fill="#FFB6C1" d="M417 441h6v2h-6z"/><path fill="#FFD700" d="M417 447h6v1h-6z"/><path fill="#00FFFF" d="M417 454h6v4h-6z"/><path fill="#FFB6C1" d="M387 458h5v2h-5z"/><path fill="#00FFFF" d="M417 460h6v1h-6z"/><path fill="#FFB6C1" d="M417 461h6v2h-6z"/><path fill="#00FFFF" d="M376 465h3v2h-3z"/><path fill="#008000" d="M365 467h4v2h-4z"/><path fill="#FFD700" d="M412 463h5v4h-5zM402 469h5v2h-5zM412 471h5v2h-5z"/><path fill="#FFB6C1" d="M417 473h6v1h-6z"/><path fill="#00FFFF" d="M379 476h4v6h-4z"/><path fill="#3C3CFF" d="M383 480h4v2h-4z"/><path fill="#00FFFF" d="M387 480h5v2h-5zM402 476h5v2h-5zM412 476h5v2h-5zM412 480h4v6h-4zM402 482h5v2h-5zM416 484h7v2h-7z"/><path fill="#00BFFF" d="M355 484h1v2h-1z"/><path fill="#FFB6C1" d="M356 484h5v2h-5z"/><path fill="#FFD700" d="M356 486h5v1h-5z"/><path fill="#00FFFF" d="M376 484h3v2h-3zM365 486h4v1h-4z"/><path fill="#FFD700" d="M365 487h4v4h-4zM373 489h3v2h-3z"/><path fill="#00FFFF" d="M379 489h4v2h-4z"/><path fill="#FFD700" d="M387 487h5v2h-5zM402 487h5v2h-5z"/><path fill="#00FFFF" d="M407 489h5v2h-5z"/><path fill="#00BFFF" d="M392 491h5v4h-5z"/><path fill="#00FFFF" d="M376 493h7v2h-7zM365 495h4v2h-4zM373 495h3v4h-3z"/><path fill="#BA55D3" d="M376 495h3v2h-3z"/><path fill="#00FFFF" d="M402 495h5v2h-5zM379 499h4v1h-4zM402 499h5v1h-5z"/><path fill="#FFD700" d="M412 499h5v3h-5z"/><path fill="#008000" d="M412 502h5v4h-5z"/><path fill="#FFB6C1" d="M383 504h4v2h-4z"/><path fill="#00FFFF" d="M402 504h5v2h-5zM356 506h5v4h-5zM376 506h3v4h-3z"/><path fill="#FFD700" d="M387 506h5v2h-5z"/><path fill="#00FFFF" d="M387 508h5v2h-5z"/><path fill="#FF0000" d="M417 508h6v2h-6z"/><path fill="#008000" d="M417 510h6v2h-6z"/><path fill="#FFD700" d="M412 510h5v2h-5z"/><path fill="#00FFFF" d="M365 510h4v2h-4zM392 510h5v7h-5z"/><path fill="#FFD700" d="M379 512h4v1h-4z"/><path fill="#00FFFF" d="M376 513h3v2h-3z"/><path fill="#FFB6C1" d="M376 515h3v2h-3z"/><path fill="#008000" d="M379 515h4v2h-4z"/><path fill="#00FFFF" d="M365 515h4v2h-4z"/><path fill="#FFD700" d="M365 517h4v2h-4z"/><path fill="#00FFFF" d="M365 519h4v1h-4zM355 515h1v2h-1z"/><path fill="#FFB6C1" d="M355 517h1v2h-1z"/><path fill="#008000" d="M412 517h5v2h-5z"/><path fill="#00FFFF" d="M379 519h4v1h-4z"/><path fill="#FFB6C1" d="M417 519h6v1h-6z"/><path fill="#00FFFF" d="M376 396h3v2h-3z"/><path fill="#FFD700" d="M383 396h4v2h-4z"/><path fill="#FF0000" d="M376 406h3v2h-3z"/><path fill="#FFB6C1" d="M376 409h3v2h-3z"/><path fill="#00FFFF" d="M392 404h5v2h-5zM412 413h5v2h-5zM402 417h5v2h-5z"/><path fill="#FFD700" d="M407 426h5v2h-5z"/><path fill="#00FFFF" d="M412 430h5v2h-5z"/><path fill="#FFB6C1" d="M376 439h3v2h-3z"/><path fill="#00FFFF" d="M417 439h6v2h-6z"/><path fill="#FF0000" d="M493 411h5v2h-5z"/><path fill="#008000" d="M460 415h8v2h-8z"/><path fill="#FFB6C1" d="M489 417h4v2h-4z"/><path fill="#008000" d="M460 430h8v5h-8z"/><path fill="#FF0000" d="M489 434h4v1h-4z"/><path fill="#BA55D3" d="M489 435h4v2h-4z"/><path fill="#008000" d="M489 443h4v2h-4z"/><path fill="#FF0000" d="M475 447h7v1h-7z"/><path fill="#00BFFF" d="M475 452h7v2h-7zM489 454h4v2h-4z"/><path fill="#FFD700" d="M475 456h7v2h-7z"/><path fill="#008000" d="M503 460h7v1h-7z"/><path fill="#FFB6C1" d="M460 458h8v2h-8z"/><path fill="#FF0000" d="M460 460h8v7h-8z"/><path fill="#FFB6C1" d="M475 463h7v2h-7z"/><path fill="#FF0000" d="M475 465h7v2h-7zM468 467h7v2h-7zM460 469h8v2h-8z"/><path fill="#008000" d="M460 471h8v2h-8z"/><path fill="#FF0000" d="M475 471h7v3h-7z"/><path fill="#FFD700" d="M431 473h10v1h-10z"/><path fill="#FF0000" d="M460 476h8v2h-8z"/><path fill="#008000" d="M460 478h8v2h-8z"/><path fill="#FF0000" d="M468 480h7v2h-7z"/><path fill="#FFB6C1" d="M468 482h7v2h-7z"/><path fill="#BA55D3" d="M468 484h7v2h-7z"/><path fill="#FF0000" d="M468 486h7v1h-7zM475 487h7v2h-7z"/><path fill="#FFB6C1" d="M441 487h10v2h-10z"/><path fill="#008000" d="M441 489h10v1h-10z"/><path fill="#BA55D3" d="M468 485h7v1h-7z"/><path fill="#FF0000" d="M468 486h7v1h-7z"/><path fill="#008000" d="M441 489h10v2h-10z"/><path fill="#FFB6C1" d="M468 491h7v2h-7z"/><path fill="#BA55D3" d="M468 493h7v2h-7z"/><path fill="#FF0000" d="M468 495h7v2h-7zM460 493h8v4h-8z"/><path fill="#BA55D3" d="M460 497h8v2h-8z"/><path fill="#FF0000" d="M460 500h8v2h-8z"/><path fill="#FFB6C1" d="M460 502h8v2h-8z"/><path fill="#FF0000" d="M460 506h8v4h-8z"/><path fill="#FFB6C1" d="M460 510h8v2h-8zM441 495h10v2h-10z"/><path fill="#008000" d="M441 497h10v2h-10z"/><path fill="#FFD700" d="M441 499h10v1h-10z"/><path fill="#008000" d="M441 502h10v6h-10z"/><path fill="#FFB6C1" d="M441 508h10v2h-10z"/><path fill="#FF0000" d="M441 512h10v1h-10z"/><path fill="#008000" d="M431 519h10v2h-10z"/><path fill="#FFB6C1" d="M441 521h10v3h-10zM431 524h10v2h-10z"/><path fill="#FF0000" d="M441 524h10v4h-10z"/><path fill="#FFB6C1" d="M441 528h10v2h-10zM431 532h10v2h-10zM420 519h3v2h-3z"/><path fill="#008000" d="M420 521h3v2h-3z"/><path fill="#00BFFF" d="M420 523h3v1h-3z"/><path fill="#008000" d="M420 524h3v2h-3zM420 534h3v3h-3z"/><path fill="#FFB6C1" d="M420 537h3v2h-3z"/><path fill="#008000" d="M420 539h3v2h-3z"/><path fill="#BA55D3" d="M420 543h3v2h-3z"/><path fill="#3C3CFF" d="M420 546h3v1h-3z"/><path fill="#FF0000" d="M420 547h3v2h-3z"/><path fill="#BA55D3" d="M423 536h8v1h-8z"/><path fill="#FFB6C1" d="M423 537h8v2h-8z"/><path fill="#BA55D3" d="M423 541h8v2h-8z"/><path fill="#FFB6C1" d="M423 543h8v2h-8z"/><path fill="#BA55D3" d="M324 415h4v2h-4zM328 437h7v2h-7z"/><path fill="#008000" d="M350 445h6v2h-6zM343 456h7v2h-7z"/><path fill="#BA55D3" d="M304 458h3v2h-3z"/><path fill="#FF0000" d="M315 463h4v2h-4zM319 465h4v2h-4z"/><path fill="#00FFFF" d="M498 179h5v2h-5z"/><path fill="#008000" d="M498 205h5v2h-5z"/><path fill="#00FFFF" d="M489 209h4v2h-4z"/><path fill="#008000" d="M493 250h10v2h-10zM498 253h5v2h-5z"/><path fill="#3C3CFF" d="M493 255h5v4h-5z"/><path fill="#00BFFF" d="M498 255h5v6h-5z"/><path fill="#008000" d="M498 261h5v2h-5z"/><path fill="#3C3CFF" d="M544 266h7v2h-7z"/><path fill="#008000" d="M503 274h7v2h-7z"/><path fill="#00FFFF" d="M184 168h3v2h-3zM294 307h3v2h-3z"/><path fill="#FFD700" d="M557 411h7v2h-7z"/><path fill="#00BFFF" d="M597 552h7v2h-7z"/><path fill="#FF0000" d="M611 736h12v2h-12z"/><path fill="#FFB6C1" d="M161 508h3v7h-3z"/><path fill="#FF0000" d="M684 166h10v2h-10z"/><path fill="#BA55D3" d="M684 177h10v2h-10z"/><path fill="#FFD700" d="M684 187h10v2h-10z"/><path fill="#00FFFF" d="M684 192h10v2h-10z"/><path fill="#FFD700" d="M684 196h10v2h-10z"/><path fill="#FFB6C1" d="M684 222h10v2h-10z"/><path fill="#FF0000" d="M684 240h10v2h-10z"/><path fill="#BA55D3" d="M684 252h10v1h-10zM684 261h10v2h-10z"/><path fill="#FFD700" d="M684 270h10v2h-10z"/><path fill="#3C3CFF" d="M684 279h10v2h-10z"/><path fill="#FFB6C1" d="M684 296h10v2h-10z"/><path fill="#3C3CFF" d="M684 300h10v2h-10z"/><path fill="#FFD700" d="M684 305h10v2h-10z"/><path fill="#3C3CFF" d="M684 309h10v2h-10z"/><path fill="#FF0000" d="M684 315h10v2h-10z"/><path fill="#BA55D3" d="M684 318h10v2h-10zM684 326h10v2h-10z"/><path fill="#FFD700" d="M684 335h10v2h-10z"/><path fill="#3C3CFF" d="M684 344h10v2h-10zM684 354h10v2h-10z"/><path fill="#00FFFF" d="M684 383h10v2h-10z"/><path fill="#3C3CFF" d="M684 458h10v2h-10zM684 484h10v2h-10z"/><path fill="#FFD700" d="M684 493h10v2h-10zM684 523h10v1h-10z"/><path fill="#BA55D3" d="M684 549h10v1h-10z"/><path fill="#FFD700" d="M684 558h10v2h-10z"/><path fill="#00FFFF" d="M684 567h10v2h-10z"/><path fill="#3C3CFF" d="M684 597h10v2h-10z"/><path fill="#BA55D3" d="M684 623h10v2h-10z"/><path fill="#FFD700" d="M684 632h10v2h-10zM684 641h10v2h-10z"/><path fill="#BA55D3" d="M684 658h10v2h-10z"/><path fill="#3C3CFF" d="M684 662h10v2h-10z"/><path fill="#FFD700" d="M684 667h10v2h-10z"/><path fill="#3C3CFF" d="M684 671h10v2h-10z"/><path fill="#00FFFF" d="M684 677h10v2h-10z"/><path fill="#BA55D3" d="M684 697h10v2h-10z"/><path fill="#FFD700" d="M684 706h10v2h-10z"/><path fill="#3C3CFF" d="M684 716h10v2h-10z"/><path fill="#FFB6C1" d="M684 725h10v2h-10zM684 732h10v2h-10z"/><path fill="#3C3CFF" d="M684 736h10v2h-10z"/><path fill="#BA55D3" d="M730 448h16v2h-16zM730 599h16v2h-16z"/><path d="M138.5 100.5V793.5M230.5 100.5V793.5M323.5 100.5V793.5M415.5 100.5V793.5M508.5 100.5V793.5M600.5 100.5V793.5M692.5 100.5V793.5M92.5 669.5H785.5M92.5 545.5H785.5M92.5 421.5H785.5M92.5 298.5H785.5M92.5 174.5H785.5" stroke="#b0b0b0" stroke-width="1" fill="none"/><rect x="92.5" y="100.5" width="693.0" height="693.0" fill="none" stroke="#000" stroke-width="1"/><path d="M138 794h1v5h-1zM230 794h1v5h-1zM323 794h1v5h-1zM415 794h1v5h-1zM508 794h1v5h-1zM600 794h1v5h-1zM692 794h1v5h-1zM785 794h1v5h-1zM87 793h5v1h-5zM87 669h5v1h-5zM87 545h5v1h-5zM87 421h5v1h-5zM87 298h5v1h-5zM87 174h5v1h-5zM92 794h1v3h-1zM115 794h1v3h-1zM161 794h1v3h-1zM184 794h1v3h-1zM207 794h1v3h-1zM253 794h1v3h-1zM277 794h1v3h-1zM300 794h1v3h-1zM346 794h1v3h-1zM369 794h1v3h-1zM392 794h1v3h-1zM438 794h1v3h-1zM461 794h1v3h-1zM484 794h1v3h-1zM531 794h1v3h-1zM554 794h1v3h-1zM577 794h1v3h-1zM623 794h1v3h-1zM646 794h1v3h-1zM669 794h1v3h-1zM715 794h1v3h-1zM739 794h1v3h-1zM762 794h1v3h-1zM89 762h3v1h-3zM89 731h3v1h-3zM89 700h3v1h-3zM89 638h3v1h-3zM89 607h3v1h-3zM89 576h3v1h-3zM89 514h3v1h-3zM89 483h3v1h-3zM89 452h3v1h-3zM89 391h3v1h-3zM89 360h3v1h-3zM89 329h3v1h-3zM89 267h3v1h-3zM89 236h3v1h-3zM89 205h3v1h-3zM89 143h3v1h-3zM89 112h3v1h-3z" fill="#000"/><rect x="816" y="712" width="31" height="90" fill="#008000"/><rect x="816" y="622" width="31" height="90" fill="#FF0000"/><rect x="816" y="532" width="31" height="90" fill="#3C3CFF"/><rect x="816" y="442" width="31" height="90" fill="#BA55D3"/><rect x="816" y="352" width="31" height="90" fill="#FFB6C1"/><rect x="816" y="262" width="31" height="90" fill="#FFD700"/><rect x="816" y="172" width="31" height="90" fill="#00FFFF"/><rect x="816" y="82" width="31" height="90" fill="#00BFFF"/><rect x="816.5" y="82.5" width="30.0" height="720.0" fill="none" stroke="#000" stroke-width="1"/><path d="M847 757h5v1h-5zM847 667h5v1h-5zM847 577h5v1h-5zM847 487h5v1h-5zM847 397h5v1h-5zM847 307h5v1h-5zM847 217h5v1h-5zM847 127h5v1h-5zM847 802h3v1h-3zM847 712h3v1h-3zM847 622h3v1h-3zM847 532h3v1h-3zM847 442h3v1h-3zM847 352h3v1h-3zM847 262h3v1h-3zM847 172h3v1h-3zM847 82h3v1h-3z" fill="#000"/></svg>
<svg width="958" height="857" style="position:absolute;left:0;top:0;will-change:transform" font-family="Liberation Sans, sans-serif" fill="#000"><text x="151.8" y="32" font-size="30.45" text-anchor="start" textLength="57.1" lengthAdjust="spacingAndGlyphs">NAL</text><text x="216.6" y="32" font-size="30.45" text-anchor="start" textLength="72.73" lengthAdjust="spacingAndGlyphs">CADI</text><text x="296.5" y="32" font-size="30.45" text-anchor="start" textLength="11.53" lengthAdjust="spacingAndGlyphs">-</text><text x="317.5" y="32" font-size="30.45" text-anchor="start" textLength="49.29" lengthAdjust="spacingAndGlyphs">Apr</text><text x="375.6" y="32" font-size="30.45" text-anchor="start" textLength="36.24" lengthAdjust="spacingAndGlyphs">11</text><text x="422.7" y="32" font-size="30.45" text-anchor="start" textLength="128.6" lengthAdjust="spacingAndGlyphs">06:45:00</text><text x="560.8" y="32" font-size="30.45" text-anchor="start" textLength="73.75" lengthAdjust="spacingAndGlyphs">2023</text><text x="643.7" y="32" font-size="30.45" text-anchor="start" textLength="57.26" lengthAdjust="spacingAndGlyphs">UTC</text><text x="337.1" y="842" font-size="25.1" text-anchor="start" textLength="123.37" lengthAdjust="spacingAndGlyphs">Frequency</text><text x="468.3" y="842" font-size="25.1" text-anchor="start" textLength="69.66" lengthAdjust="spacingAndGlyphs">(MHz)</text><text x="28" y="559.8" font-size="25.1" text-anchor="start" textLength="77.46" lengthAdjust="spacingAndGlyphs" transform="rotate(-90 28 559.8)">Virtual</text><text x="28" y="473.8" font-size="25.1" text-anchor="start" textLength="75.64" lengthAdjust="spacingAndGlyphs" transform="rotate(-90 28 473.8)">height</text><text x="28" y="390.3" font-size="25.1" text-anchor="start" textLength="55.53" lengthAdjust="spacingAndGlyphs" transform="rotate(-90 28 390.3)">(km)</text><text x="943" y="549.8" font-size="25.1" text-anchor="start" textLength="98.2" lengthAdjust="spacingAndGlyphs" transform="rotate(-90 943 549.8)">Azimuth</text><text x="943" y="443.5" font-size="25.1" text-anchor="start" textLength="107.57" lengthAdjust="spacingAndGlyphs" transform="rotate(-90 943 443.5)">Direction</text><text x="138.5" y="815" font-size="16.8" text-anchor="middle" textLength="9.34" lengthAdjust="spacingAndGlyphs">2</text><text x="230.5" y="815" font-size="16.8" text-anchor="middle" textLength="9.34" lengthAdjust="spacingAndGlyphs">4</text><text x="323.5" y="815" font-size="16.8" text-anchor="middle" textLength="9.34" lengthAdjust="spacingAndGlyphs">6</text><text x="415.5" y="815" font-size="16.8" text-anchor="middle" textLength="9.34" lengthAdjust="spacingAndGlyphs">8</text><text x="508.5" y="815" font-size="16.8" text-anchor="middle" textLength="18.67" lengthAdjust="spacingAndGlyphs">10</text><text x="600.5" y="815" font-size="16.8" text-anchor="middle" textLength="18.67" lengthAdjust="spacingAndGlyphs">12</text><text x="692.5" y="815" font-size="16.8" text-anchor="middle" textLength="18.67" lengthAdjust="spacingAndGlyphs">14</text><text x="785.5" y="815" font-size="16.8" text-anchor="middle" textLength="18.67" lengthAdjust="spacingAndGlyphs">16</text><text x="72.5" y="799" font-size="16.8" text-anchor="start">0</text><text x="51.0" y="675" font-size="16.8" text-anchor="start" textLength="30.18" lengthAdjust="spacingAndGlyphs">200</text><text x="51.0" y="552" font-size="16.8" text-anchor="start" textLength="30.18" lengthAdjust="spacingAndGlyphs">400</text><text x="51.0" y="428" font-size="16.8" text-anchor="start" textLength="30.18" lengthAdjust="spacingAndGlyphs">600</text><text x="51.0" y="304" font-size="16.8" text-anchor="start" textLength="30.18" lengthAdjust="spacingAndGlyphs">800</text><text x="40.7" y="180" font-size="16.8" text-anchor="start" textLength="40.88" lengthAdjust="spacingAndGlyphs">1000</text><text x="855.6" y="762.5" font-size="16.8" text-anchor="start" textLength="63.92" lengthAdjust="spacingAndGlyphs">X-mode</text><text x="856.6" y="672.5" font-size="16.8" text-anchor="start" textLength="61.16" lengthAdjust="spacingAndGlyphs">Vertical</text><text x="855.6" y="582.5" font-size="16.8" text-anchor="start" textLength="41.11" lengthAdjust="spacingAndGlyphs">NNW</text><text x="856.6" y="492.5" font-size="16.8" text-anchor="start" textLength="14.85" lengthAdjust="spacingAndGlyphs">W</text><text x="855.6" y="402.5" font-size="16.8" text-anchor="start" textLength="36.48" lengthAdjust="spacingAndGlyphs">SSW</text><text x="855.6" y="312.5" font-size="16.8" text-anchor="start" textLength="30.44" lengthAdjust="spacingAndGlyphs">SSE</text><text x="855.6" y="222.5" font-size="16.8" text-anchor="start" textLength="9.49" lengthAdjust="spacingAndGlyphs">E</text><text x="855.6" y="132.5" font-size="16.8" text-anchor="start" textLength="33.67" lengthAdjust="spacingAndGlyphs">NNE</text></svg>
</body></html>
